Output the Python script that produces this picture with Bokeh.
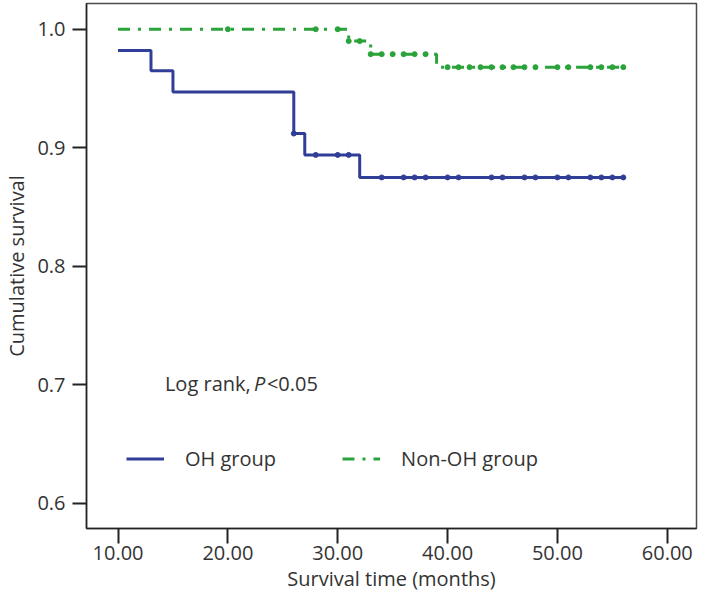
import numpy as np
from bokeh.plotting import figure
from bokeh.models import Range1d, FixedTicker, Label, Legend, LegendItem, CustomJSTickFormatter
from bokeh.embed import file_html
from bokeh.resources import INLINE

# ---- data ----
oh_times = [10, 13, 15, 26, 27, 32, 56]
oh_surv = [0.982, 0.965, 0.947, 0.912, 0.894, 0.875, 0.875]
oh_censor = [26, 28, 30, 31, 34, 36, 37, 38, 40, 41, 44, 45, 47, 48, 50, 51, 53, 54, 55, 56]

non_times = [10, 31, 33, 39, 56]
non_surv = [1.0, 0.990, 0.979, 0.968, 0.968]
non_censor = [20, 28, 30, 31, 32, 33, 34, 35, 36, 37, 38, 40, 41, 42, 43, 44, 45, 46, 47, 48,
              50, 51, 53, 54, 55, 56]

x_ticks = [10, 20, 30, 40, 50, 60]
y_ticks = [0.6, 0.7, 0.8, 0.9, 1.0]
series_names = ["OH group", "Non-OH group"]

BLUE = "#313e97"
GREEN = "#2aa33a"
TXT = "#333333"
FONT = "Open Sans"
FS = "20px"


def surv_at(times, surv, t):
    idx = np.searchsorted(np.asarray(times), np.asarray(t), side="right") - 1
    return list(np.asarray(surv)[idx])


p = figure(width=700, height=598, output_backend="svg", toolbar_location=None,
           x_range=Range1d(7.13, 62.66), y_range=Range1d(0.5789, 1.0217),
           min_border_left=77, min_border_right=4, min_border_top=3, min_border_bottom=70)
p.background_fill_color = "white"
p.border_fill_color = "white"
p.grid.visible = False
p.outline_line_color = "#4a4a4a"
p.outline_line_width = 1.5

r_oh = p.step(oh_times, oh_surv, mode="after", line_color=BLUE, line_width=3)
p.scatter(oh_censor, surv_at(oh_times, oh_surv, oh_censor), marker="circle", size=5,
          color=BLUE)

r_non = p.step(non_times, non_surv, mode="after", line_color=GREEN, line_width=3,
               line_dash="12 8 3 8")
p.scatter(non_censor, surv_at(non_times, non_surv, non_censor), marker="circle", size=5,
          color=GREEN)

for ax in (p.xaxis[0], p.yaxis[0]):
    ax.axis_line_color = "#222222"
    ax.axis_line_width = 1.5
    ax.major_tick_line_color = "#222222"
    ax.major_tick_line_width = 2
    ax.major_tick_in = 0
    ax.minor_tick_line_color = None
    ax.major_label_text_font = FONT
    ax.major_label_text_font_size = FS
    ax.major_label_text_color = TXT
    ax.axis_label_text_font = FONT
    ax.axis_label_text_font_size = FS
    ax.axis_label_text_color = TXT
    ax.axis_label_text_font_style = "normal"

p.xaxis.ticker = FixedTicker(ticks=x_ticks)
p.yaxis.ticker = FixedTicker(ticks=y_ticks)
p.xaxis.formatter = CustomJSTickFormatter(code="return tick.toFixed(2);")
p.yaxis.formatter = CustomJSTickFormatter(code="return tick.toFixed(1);")
p.xaxis.major_tick_out = 15
p.yaxis.major_tick_out = 14
p.xaxis.major_label_standoff = 2
p.yaxis.major_label_standoff = 7
p.xaxis.axis_label = "Survival time (months)"
p.yaxis.axis_label = "Cumulative survival"
p.xaxis.axis_label_standoff = 2
p.yaxis.axis_label_standoff = 4

# Log rank annotation
lab1 = Label(x=14.27, y=0.701, text="Log rank, ", text_font=FONT, text_font_size=FS,
             text_color=TXT, text_baseline="middle")
lab2 = Label(x=14.27, y=0.701, x_offset=89, text="P", text_font=FONT, text_font_size=FS,
             text_color=TXT, text_baseline="middle", text_font_style="italic")
lab3 = Label(x=14.27, y=0.701, x_offset=102, text="<0.05", text_font=FONT,
             text_font_size=FS, text_color=TXT, text_baseline="middle")
for l in (lab1, lab2, lab3):
    p.add_layout(l)

legend = Legend(items=[LegendItem(label=series_names[0], renderers=[r_oh]),
                       LegendItem(label=series_names[1], renderers=[r_non])],
                orientation="horizontal", location=(40, 56), padding=0, margin=0,
                spacing=66, glyph_width=38, glyph_height=25, label_standoff=21,
                label_text_font=FONT, label_text_font_size=FS, label_text_color=TXT,
                border_line_color=None, background_fill_alpha=0)
p.add_layout(legend)

open("out.html", "w").write(file_html(p, INLINE))
